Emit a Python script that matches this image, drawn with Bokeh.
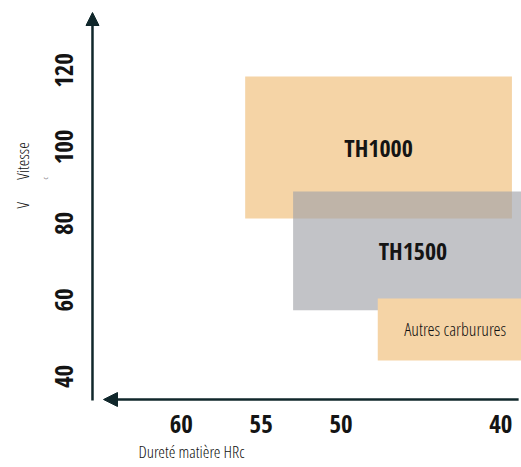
import math
from bokeh.plotting import figure
from bokeh.models import Range1d, FixedTicker, Title, Arrow, NormalHead, ColumnDataSource
from bokeh.core.properties import value
from bokeh.embed import file_html
from bokeh.resources import INLINE

# ---- data ----
grades = ["TH1000", "TH1500", "Autres carburures"]
hardness_max = [56.0, 53.0, 47.7]     # left edge (harder side), HRc
hardness_min = [39.3, 38.0, 38.0]     # right edge (softer side), HRc
speed_min = [81.3, 57.3, 44.2]        # Vc lower bound
speed_max = [118.4, 88.4, 60.4]       # Vc upper bound
x_ticks = [60, 55, 50, 40]
y_ticks = [40, 60, 80, 100, 120]

FONT_BOLD = "Open Sans Condensed"
FONT_REG = "Open Sans Condensed Light"
AXIS_COLOR = "#10272b"
TEXT_COLOR = "#141414"
LIGHT_TEXT = "#111111"

src = ColumnDataSource(dict(
    grade=grades,
    left=hardness_max,
    right=hardness_min,
    bottom=speed_min,
    top=speed_max,
    xc=[(a + b) / 2 for a, b in zip(hardness_max, hardness_min)],
    yc=[(a + b) / 2 for a, b in zip(speed_min, speed_max)],
    fill=["#f5d4a6", "#a2a3a9", "#f5d4a6"],
    alpha=[1.0, 0.65, 1.0],
    font=[FONT_BOLD, FONT_BOLD, FONT_REG],
    fsize=["24px", "24px", "18px"],
    fstyle=["bold", "bold", "normal"],
    tcolor=[TEXT_COLOR, TEXT_COLOR, LIGHT_TEXT],
))

xr = Range1d(66.06, 38.70)
yr = Range1d(31.9, 138.3)

p = figure(width=521, height=467, x_range=xr, y_range=yr,
           output_backend="svg", toolbar_location=None,
           min_border_left=84, min_border_right=0, min_border_top=0, min_border_bottom=60)
p.outline_line_color = None
p.grid.visible = False
p.background_fill_color = "white"
p.border_fill_color = "white"

p.quad(left="left", right="right", bottom="bottom", top="top", source=src,
       fill_color="fill", fill_alpha="alpha", line_color=None)

p.text(x="xc", y="yc", text="grade", source=src,
       text_font="font", text_font_size="fsize", text_font_style="fstyle",
       text_color="tcolor", text_align="center", text_baseline="middle")

for ax, ticks, sd in ((p.xaxis[0], x_ticks, 1), (p.yaxis[0], y_ticks, 5)):
    ax.ticker = FixedTicker(ticks=ticks)
    ax.axis_line_color = None
    ax.major_tick_line_color = None
    ax.minor_tick_line_color = None
    ax.major_label_standoff = sd
    ax.major_label_text_font = FONT_BOLD
    ax.major_label_text_font_size = "25px"
    ax.major_label_text_font_style = "bold"
    ax.major_label_text_color = TEXT_COLOR
p.yaxis[0].major_label_orientation = "vertical"

# axis arrows
p.add_layout(Arrow(x_start=65.56, y_start=33.73, x_end=65.56, y_end=135.16,
                   line_color=AXIS_COLOR, line_width=2.5,
                   end=NormalHead(size=13, fill_color=AXIS_COLOR, line_color=AXIS_COLOR)))
p.add_layout(Arrow(x_start=38.88, y_start=33.99, x_end=64.87, y_end=33.99,
                   line_color=AXIS_COLOR, line_width=2.5,
                   end=NormalHead(size=14, fill_color=AXIS_COLOR, line_color=AXIS_COLOR)))

# axis titles
p.add_layout(Title(text="Dureté matière HRc", align="left", offset=54, standoff=5,
                   text_font=FONT_REG, text_font_size="17px", text_font_style="normal",
                   text_color=LIGHT_TEXT), "below")
p.add_layout(Title(text="c", align="left", offset=228, standoff=6,
                   text_font=FONT_REG, text_font_size="8px", text_font_style="normal",
                   text_color=LIGHT_TEXT), "left")
p.add_layout(Title(text="V\u00a0\u00a0\u00a0\u00a0\u00a0Vitesse", align="left", offset=199, standoff=0,
                   text_font=FONT_REG, text_font_size="17px", text_font_style="normal",
                   text_color=LIGHT_TEXT), "left")

open("out.html", "w").write(file_html(p, INLINE))
